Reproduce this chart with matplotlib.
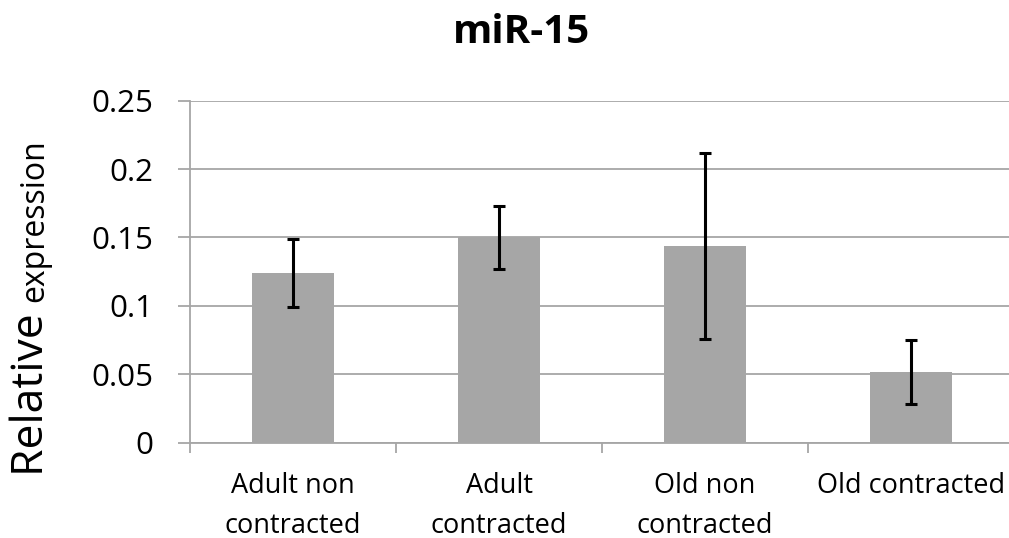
import matplotlib
matplotlib.use("Agg")
import matplotlib.pyplot as plt
import numpy as np

categories = ["Adult non\ncontracted", "Adult\ncontracted", "Old non\ncontracted", "Old contracted"]
values = [0.124, 0.150, 0.144, 0.0515]
errors = [0.025, 0.023, 0.068, 0.0236]
yticks = [0, 0.05, 0.1, 0.15, 0.2, 0.25]
ytick_labels = ["0", "0.05", "0.1", "0.15", "0.2", "0.25"]
title = "miR-15"

plt.rcParams['font.family'] = ['Open Sans', 'DejaVu Sans']

W, H = 1009, 538
fig = plt.figure(figsize=(W / 100, H / 100), dpi=100)
fig.patch.set_facecolor('white')

ax_l, ax_r, ax_t, ax_b = 190, 1014, 100.7, 442.5
ax = fig.add_axes([ax_l / W, 1 - ax_b / H, (ax_r - ax_l) / W, (ax_b - ax_t) / H])

grid_c = '#A6A6A6'
x = np.arange(len(categories))
ax.bar(x, values, width=0.4, color='#A6A6A6', zorder=2)
ax.errorbar(x, values, yerr=errors, fmt='none', ecolor='black', elinewidth=2.2,
            capsize=4.6, capthick=2.2, zorder=3)

ax.set_xlim(-0.5, len(categories) - 0.5)
ax.set_ylim(0, 0.25)
ax.set_yticks(yticks)
ax.set_yticklabels(ytick_labels)
ax.yaxis.grid(True, color=grid_c, linewidth=1.3, zorder=0)
ax.set_axisbelow(True)

ax.set_xticks(x)
ax.set_xticklabels(categories, linespacing=1.55)
ax.set_xticks(np.arange(len(categories) + 1) - 0.5, minor=True)
ax.tick_params(axis='x', which='major', length=0, pad=21.5, labelsize=19.5)
ax.tick_params(axis='x', which='minor', length=7, width=1.3, color=grid_c, direction='out')
ax.tick_params(axis='y', which='major', length=9, width=1.3, color=grid_c, direction='out',
               pad=17.3, labelsize=22.5)

for s in ['top', 'right']:
    ax.spines[s].set_visible(False)
for s in ['left', 'bottom']:
    ax.spines[s].set_color(grid_c)
    ax.spines[s].set_linewidth(1.3)

fig.text(521 / W, 1 - 43 / H, title, ha='center', va='baseline', fontsize=29, fontweight='bold')

# y label: "Relative" large, "expression" smaller
t1 = fig.text(43 / W, 1 - 476 / H, "Relative ", rotation=90, rotation_mode='anchor',
              ha='left', va='baseline', fontsize=32)
fig.canvas.draw()
r = fig.canvas.get_renderer()
bb = t1.get_window_extent(r)
fig.text(43 / W, bb.y1 / H, "expression", rotation=90, rotation_mode='anchor',
         ha='left', va='baseline', fontsize=23)

fig.savefig("out.png", dpi=100, facecolor='white')
